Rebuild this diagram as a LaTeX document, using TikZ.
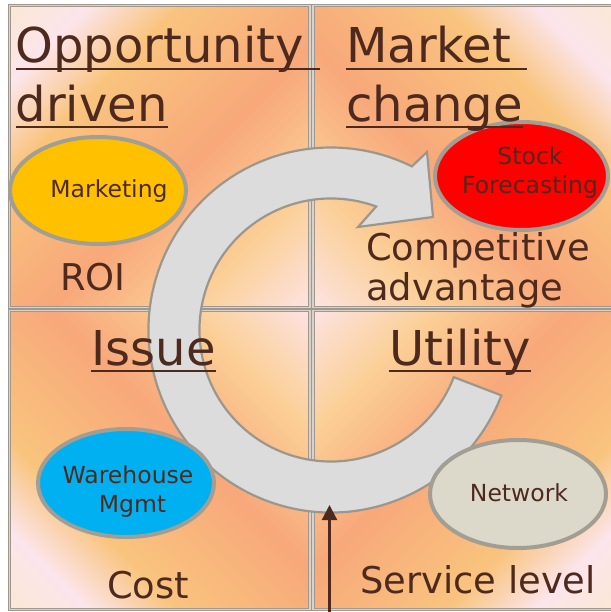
\documentclass[tikz,border=0pt]{standalone}
\usepackage{fontspec}
\setmainfont{DejaVu Sans}
\usetikzlibrary{shapes.geometric,arrows.meta,calc}
\definecolor{pk0}{HTML}{FBE8D4}
\definecolor{pk1}{HTML}{FCE5EC}
\definecolor{pk2}{HTML}{F9C47E}
\definecolor{pk3}{HTML}{F8A87A}
\definecolor{pk4}{HTML}{FBCF96}
\definecolor{pk5}{HTML}{FDE3E2}
\definecolor{qgray}{HTML}{A0988F}
\definecolor{qlight}{HTML}{D9D1CA}
\definecolor{tbrown}{HTML}{4E2A1E}
\definecolor{egray}{HTML}{A29E93}
\definecolor{arrowfill}{HTML}{DCDCDC}
\definecolor{arrowedge}{HTML}{9C978E}
\definecolor{mkyellow}{HTML}{FFC000}
\definecolor{sfred}{HTML}{FF0000}
\definecolor{whblue}{HTML}{00B0F0}
\definecolor{nwgray}{HTML}{DCD9CB}
\pgfdeclarehorizontalshading{peach}{100bp}{color(0bp)=(pk0); color(14.64bp)=(pk0); color(23.8bp)=(pk1); color(34.4bp)=(pk2); color(54.9bp)=(pk3); color(71.2bp)=(pk4); color(85.36bp)=(pk5); color(100bp)=(pk5)}
\begin{document}
\begin{tikzpicture}[x=1bp,y=-1bp,
  quad/.style={shade, shading=peach, draw=qgray, double=qlight, line width=1bp, double distance=1.2bp},
  bubble/.style={ellipse, draw=egray, line width=4bp, minimum width=176bp, minimum height=108bp, inner sep=0pt},
  etext/.style={text=tbrown, font=\fontsize{23.6}{28}\selectfont, inner sep=0pt, anchor=base},
  ttl/.style={text=tbrown, font=\fontsize{48.2}{58}\selectfont, inner sep=0pt, anchor=base west},
  lbl/.style={text=tbrown, font=\fontsize{37}{44}\selectfont, inner sep=0pt, anchor=base west},
  uline/.style={draw=tbrown, line width=2.6bp},
  cyc/.style={fill=arrowfill, draw=arrowedge, line width=2.2bp, line join=miter},
  pointer/.style={draw=tbrown, line width=2.2bp, -{Triangle[length=15bp,width=15bp]}}]
\useasboundingbox (0,0) rectangle (611,612);
\fill[white] (0,0) rectangle (611,612);
% quadrants
\path[quad, shading angle=-45] (9.6,5.6) rectangle (310,307.3);
\path[quad, shading angle=-135] (313,5.6) rectangle (615,307.3);
\path[quad, shading angle=45] (9.6,310.5) rectangle (310,609.5);
\path[quad, shading angle=135] (313,310.5) rectangle (615,609.5);
% circular arrow
\coordinate (c) at (331,330);
\path[cyc] ($(c)+(21:182.5)$) arc[start angle=21, end angle=296.3, radius=182.5]
  -- (427,152) -- (433,217) -- (358,227) -- ($(c)+(290.1:131.5)$)
  arc[start angle=290.1, end angle=21, radius=131.5] -- cycle;
% ellipses
\node[bubble, fill=mkyellow, minimum height=107bp] (mk) at (98,190.5) {};
\node[bubble, fill=sfred, minimum width=173bp] (sf) at (521.5,176) {};
\node[bubble, fill=whblue] (wh) at (126,483) {};
\node[bubble, fill=nwgray] (nw) at (518,494) {};
\node[etext] (mkt) at (109,197) {Marketing};
\node[etext] (sft1) at (530,165) {Stock};
\node[etext] (sft2) at (530,193) {Forecasting};
\node[etext] (wht1) at (128,483) {Warehouse};
\node[etext] (wht2) at (132.5,512) {Mgmt};
\node[etext] (nwt) at (519,501) {Network};
% titles
\node[ttl] (op) at (15.5,63) {Opportunity};
\node[ttl] (dr) at (15.5,122) {driven};
\node[ttl] (mc1) at (346,63) {Market};
\node[ttl] (mc2) at (346,122) {change};
\node[ttl, anchor=base] (is) at (153.5,365) {Issue};
\node[ttl, anchor=base] (ut) at (460,365) {Utility};
\draw[uline] ([yshift=-6bp]op.base west) -- ([xshift=16bp,yshift=-6bp]op.base east);
\draw[uline] ([yshift=-5bp]dr.base west) -- ([yshift=-5bp]dr.base east);
\draw[uline] ([yshift=-6bp]mc1.base west) -- ([xshift=16bp,yshift=-6bp]mc1.base east);
\draw[uline] ([yshift=-5bp]mc2.base west) -- ([yshift=-5bp]mc2.base east);
\draw[uline] ([yshift=-6bp]is.base west) -- ([yshift=-6bp]is.base east);
\draw[uline] ([yshift=-6bp]ut.base west) -- ([yshift=-6bp]ut.base east);
% labels
\node[lbl] (ca1) at (366,260) {Competitive};
\node[lbl] (ca2) at (366,300) {advantage};
\node[lbl, anchor=base] (roi) at (93,290) {ROI};
\node[lbl, anchor=base] (cost) at (148,598) {Cost};
\node[lbl, anchor=base] (sl) at (478,593) {Service level};
% bottom pointer
\coordinate (pb) at (329.5,615);
\coordinate (pt) at (329.5,505);
\draw[pointer] (pb) -- (pt);
\end{tikzpicture}
\end{document}
